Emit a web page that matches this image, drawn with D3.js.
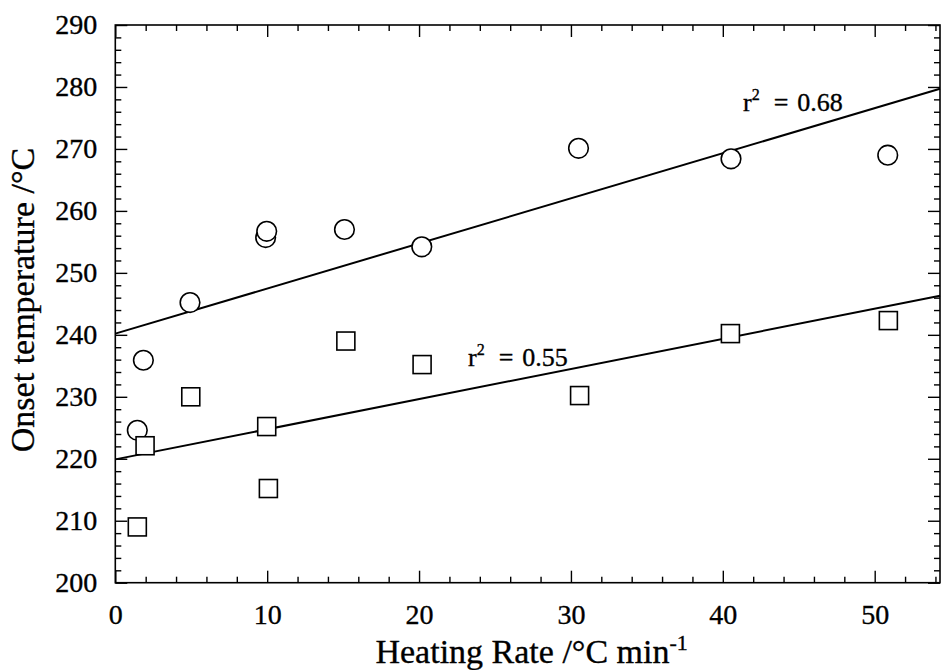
<!DOCTYPE html>
<html>
<head>
<meta charset="utf-8">
<script src="https://cdn.jsdelivr.net/npm/d3@7"></script>
<style>
  html, body { margin: 0; padding: 0; background: #fff; }
  svg { display: block; }
  text { font-family: "Liberation Serif", "Times New Roman", serif; fill: #000; stroke: #000; stroke-width: 0.35px; }
</style>
</head>
<body>
<svg id="chart" width="941" height="670"></svg>
<script>
// ---- data ----
const circleX = [1.45, 1.85, 4.92, 9.9, 9.97, 15.09, 20.18, 30.5, 40.54, 50.86];
const circleY = [224.6, 235.9, 245.2, 255.7, 256.7, 257.0, 254.2, 270.1, 268.4, 269.0];
const squareX = [1.45, 1.96, 4.97, 9.97, 10.08, 15.18, 20.2, 30.57, 40.5, 50.9];
const squareY = [209.0, 222.1, 230.0, 225.2, 215.2, 239.0, 235.2, 230.2, 240.2, 242.3];
const fitX = [0, 54.3];
const fitCircleY = [240.2, 279.7];
const fitSquareY = [219.9, 246.3];
const xTicks = [0, 10, 20, 30, 40, 50];
const yTicks = [200, 210, 220, 230, 240, 250, 260, 270, 280, 290];
const xMinor = d3.range(0, 55, 2);
const yMinor = d3.range(200, 291, 2);
const r2Labels = ["0.68", "0.55"];

// ---- layout ----
const L = 115.3, R = 940, T = 25, B = 582.7;
const svg = d3.select("#chart");
const x = d3.scaleLinear().domain([0, 54.3]).range([L, R]);
const y = d3.scaleLinear().domain([200, 290]).range([B, T]);

const g = svg.append("g");

// frame
g.append("rect").attr("x", L).attr("y", T).attr("width", R - L).attr("height", B - T)
  .attr("fill", "none").attr("stroke", "#000").attr("stroke-width", 1.6);

function styleAxis(sel) {
  sel.attr("font-family", null).attr("font-size", null);
  sel.select(".domain").remove();
  sel.selectAll(".tick line").attr("stroke", "#000").attr("stroke-width", 1.4);
  sel.selectAll(".tick text").attr("font-size", 28);
}

// minor ticks (inward) on all sides
g.append("g").attr("transform", `translate(0,${B})`)
  .call(d3.axisBottom(x).tickValues(xMinor.filter(v => v % 10 !== 0)).tickSize(-6).tickFormat(""))
  .call(styleAxis);
g.append("g").attr("transform", `translate(0,${T})`)
  .call(d3.axisTop(x).tickValues(xMinor.filter(v => v % 10 !== 0)).tickSize(-6).tickFormat(""))
  .call(styleAxis);
g.append("g").attr("transform", `translate(${L},0)`)
  .call(d3.axisLeft(y).tickValues(yMinor.filter(v => v % 10 !== 0)).tickSize(-6).tickFormat(""))
  .call(styleAxis);
g.append("g").attr("transform", `translate(${R},0)`)
  .call(d3.axisRight(y).tickValues(yMinor.filter(v => v % 10 !== 0)).tickSize(-6).tickFormat(""))
  .call(styleAxis);

// major ticks with labels
g.append("g").attr("transform", `translate(0,${B})`)
  .call(d3.axisBottom(x).tickValues(xTicks).tickSize(-12).tickPadding(21).tickFormat(d3.format("d")))
  .call(styleAxis);
g.append("g").attr("transform", `translate(0,${T})`)
  .call(d3.axisTop(x).tickValues(xTicks).tickSize(-12).tickFormat(""))
  .call(styleAxis);
g.append("g").attr("transform", `translate(${L},0)`)
  .call(d3.axisLeft(y).tickValues(yTicks).tickSize(-12).tickPadding(18).tickFormat(d3.format("d")))
  .call(styleAxis);
g.append("g").attr("transform", `translate(${R},0)`)
  .call(d3.axisRight(y).tickValues(yTicks).tickSize(-12).tickFormat(""))
  .call(styleAxis);

// fit lines
const line = d3.line().x(d => x(d[0])).y(d => y(d[1]));
g.append("path").datum(fitX.map((v, i) => [v, fitCircleY[i]]))
  .attr("d", line).attr("fill", "none").attr("stroke", "#000").attr("stroke-width", 2);
g.append("path").datum(fitX.map((v, i) => [v, fitSquareY[i]]))
  .attr("d", line).attr("fill", "none").attr("stroke", "#000").attr("stroke-width", 2);

// circles
g.selectAll("circle.pt").data(circleX.map((v, i) => [v, circleY[i]])).join("circle")
  .attr("class", "pt").attr("cx", d => x(d[0])).attr("cy", d => y(d[1])).attr("r", 9.8)
  .attr("fill", "#fff").attr("stroke", "#000").attr("stroke-width", 1.6);

// squares
const s = 18;
g.selectAll("rect.pt").data(squareX.map((v, i) => [v, squareY[i]])).join("rect")
  .attr("class", "pt").attr("x", d => x(d[0]) - s / 2).attr("y", d => y(d[1]) - s / 2)
  .attr("width", s).attr("height", s)
  .attr("fill", "#fff").attr("stroke", "#000").attr("stroke-width", 1.6);

// r² labels
function r2(xPos, yPos, val) {
  const t = g.append("text").attr("x", xPos).attr("y", yPos).attr("font-size", 26);
  t.append("tspan").text("r");
  t.append("tspan").attr("dy", -11).attr("font-size", 16).text("2");
  t.append("tspan").attr("dy", 11).attr("dx", 14).text("=");
  t.append("tspan").attr("dx", 9).text(val);
}
r2(743, 111, r2Labels[0]);
r2(468, 366, r2Labels[1]);

// axis titles
const xt = svg.append("text").attr("x", (L + R) / 2 + 4).attr("y", 663)
  .attr("text-anchor", "middle").attr("font-size", 34);
xt.append("tspan").text("Heating Rate /°C min");
xt.append("tspan").attr("dy", -13).attr("font-size", 22).text("-1");

svg.append("text").attr("transform", `translate(34,300) rotate(-90)`)
  .attr("text-anchor", "middle").attr("font-size", 34).text("Onset temperature /°C");
</script>
</body>
</html>
